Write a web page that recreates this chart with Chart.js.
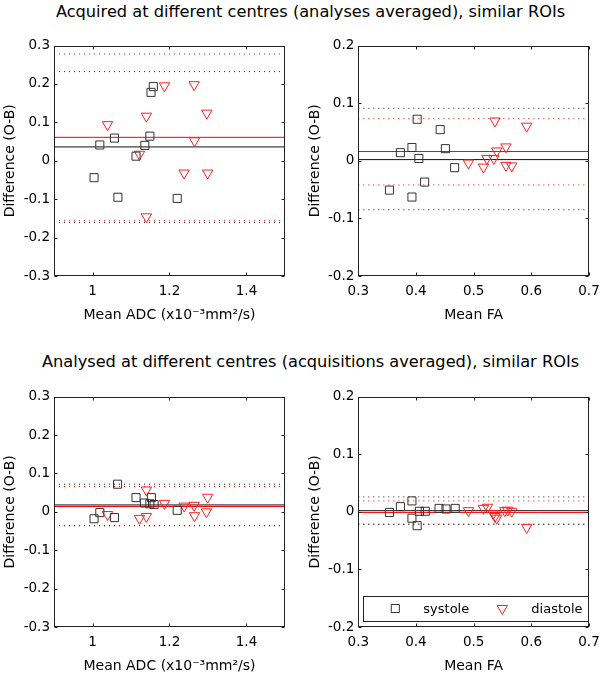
<!DOCTYPE html>
<html>
<head>
<meta charset="utf-8">
<script src="https://cdn.jsdelivr.net/npm/chart.js@4.4.0/dist/chart.umd.min.js"></script>
<style>
body { margin: 0; width: 600px; height: 675px; position: relative; overflow: hidden; background: #fff; font-family: "DejaVu Sans", sans-serif; }
canvas { position: absolute; }
.ttl { position: absolute; left: 0; width: 621px; text-align: center; font-size: 16.2px; line-height: 20px; color: #000; white-space: nowrap; }
</style>
</head>
<body>
<div class="ttl" style="top:2px">Acquired at different centres (analyses averaged), similar ROIs</div>
<div class="ttl" style="top:352px">Analysed at different centres (acquisitions averaged), similar ROIs</div>
<canvas id="c1" width="300" height="294" style="left:0;top:30px"></canvas>
<canvas id="c2" width="295" height="294" style="left:305px;top:30px"></canvas>
<canvas id="c3" width="300" height="295" style="left:0;top:380px"></canvas>
<canvas id="c4" width="295" height="295" style="left:305px;top:380px"></canvas>
<script>
// axes
var adcRange = [0.9, 1.5];
var faRange = [0.3, 0.7];
var adcDiffRange = [-0.3, 0.3];
var faDiffRange = [-0.2, 0.2];
var adcTicks = [1, 1.2, 1.4];
var faTicks = [0.3, 0.4, 0.5, 0.6, 0.7];
var adcDiffTicks = [-0.3, -0.2, -0.1, 0, 0.1, 0.2, 0.3];
var faDiffTicks = [-0.2, -0.1, 0, 0.1, 0.2];

// acquired at different centres - ADC
var acqAdcSysX = [1.158, 1.152, 1.019, 1.057, 1.149, 1.136, 1.113, 1.004, 1.066, 1.220];
var acqAdcSysY = [0.193, 0.178, 0.041, 0.059, 0.064, 0.040, 0.012, -0.044, -0.095, -0.098];
var acqAdcDiaX = [1.187, 1.264, 1.140, 1.039, 1.297, 1.265, 1.122, 1.238, 1.299, 1.140];
var acqAdcDiaY = [0.195, 0.198, 0.116, 0.094, 0.124, 0.052, 0.017, -0.032, -0.032, -0.146];
var acqAdcSysLines = [0.036, 0.232, -0.161];   // mean, upper, lower
var acqAdcDiaLines = [0.061, 0.278, -0.156];

// acquired at different centres - FA
var acqFaSysX = [0.402, 0.442, 0.393, 0.373, 0.451, 0.405, 0.467, 0.415, 0.354, 0.393];
var acqFaSysY = [0.072, 0.054, 0.023, 0.014, 0.021, 0.004, -0.012, -0.037, -0.051, -0.063];
var acqFaDiaX = [0.537, 0.592, 0.556, 0.540, 0.523, 0.535, 0.491, 0.517, 0.556, 0.566];
var acqFaDiaY = [0.069, 0.060, 0.024, 0.017, 0.004, 0.004, -0.004, -0.011, -0.008, -0.009];
var acqFaSysLines = [0.002, 0.091, -0.085];
var acqFaDiaLines = [0.016, 0.073, -0.042];

// analysed at different centres - ADC
var anaAdcSysX = [1.065, 1.113, 1.153, 1.135, 1.149, 1.160, 1.220, 1.019, 1.004, 1.057];
var anaAdcSysY = [0.072, 0.037, 0.037, 0.023, 0.021, 0.019, 0.004, -0.002, -0.018, -0.015];
var anaAdcDiaX = [1.140, 1.187, 1.299, 1.238, 1.264, 1.265, 1.296, 1.039, 1.122, 1.140];
var anaAdcDiaY = [0.057, 0.022, 0.038, 0.015, 0.017, -0.010, 0.000, -0.007, -0.017, -0.012];
var anaAdcSysLines = [0.018, 0.072, -0.036];
var anaAdcDiaLines = [0.014, 0.066, -0.036];

// analysed at different centres - FA
var anaFaSysX = [0.354, 0.373, 0.393, 0.393, 0.402, 0.406, 0.416, 0.440, 0.452, 0.468];
var anaFaSysY = [-0.001, 0.009, 0.019, -0.011, -0.024, 0.001, 0.001, 0.006, 0.005, 0.006];
var anaFaDiaX = [0.491, 0.517, 0.524, 0.534, 0.537, 0.540, 0.554, 0.559, 0.566, 0.592];
var anaFaDiaY = [0.002, 0.006, 0.008, -0.003, -0.008, -0.011, 0.002, 0.003, 0.001, -0.027];
var anaFaSysLines = [0.002, 0.026, -0.022];
var anaFaDiaLines = [-0.001, 0.019, -0.021];

var FONT = "'DejaVu Sans', sans-serif";
var SYS_COL = '#333';
var DIA_COL = '#ff2020';

function fmt(v) { return String(+v.toFixed(2)); }

var framePlugin = {
	id: 'frame',
	afterDatasetsDraw: function(chart) {
		var ctx = chart.ctx, a = chart.chartArea, sx = chart.scales.x, sy = chart.scales.y;
		var l = Math.round(a.left) + 0.5, r = Math.round(a.right) - 0.5;
		var t = Math.round(a.top) + 0.5, b = Math.round(a.bottom) - 0.5;
		ctx.save();
		ctx.strokeStyle = '#222';
		ctx.lineWidth = 1;
		ctx.strokeRect(l, t, r - l, b - t);
		ctx.beginPath();
		sx.ticks.forEach(function(tk) {
			var px = Math.round(sx.getPixelForValue(tk.value)) + 0.5;
			ctx.moveTo(px, b); ctx.lineTo(px, b - 3);
			ctx.moveTo(px, t); ctx.lineTo(px, t + 3);
		});
		sy.ticks.forEach(function(tk) {
			var py = Math.round(sy.getPixelForValue(tk.value)) + 0.5;
			ctx.moveTo(l, py); ctx.lineTo(l + 3, py);
			ctx.moveTo(r, py); ctx.lineTo(r - 3, py);
		});
		ctx.stroke();
		ctx.restore();
	}
};

var legendPlugin = {
	id: 'boxLegend',
	afterDraw: function(chart) {
		if (!chart.options.plugins.boxLegend || !chart.options.plugins.boxLegend.show) return;
		var ctx = chart.ctx, a = chart.chartArea;
		var bl = a.left + 5, br = a.right - 1, bb = a.bottom - 6, bt = bb - 25;
		var cy = (bt + bb) / 2;
		ctx.save();
		ctx.fillStyle = '#fff';
		ctx.fillRect(bl, bt, br - bl, bb - bt);
		ctx.strokeStyle = '#222';
		ctx.lineWidth = 1;
		ctx.strokeRect(Math.round(bl) + 0.5, Math.round(bt) + 0.5, Math.round(br - bl), Math.round(bb - bt));
		var items = [chart.data.datasets[0], chart.data.datasets[1]];
		var offs = [[32, 60], [139, 168]];
		items.forEach(function(ds, i) {
			ctx.strokeStyle = ds.pointBorderColor;
			ctx.fillStyle = 'rgba(0,0,0,0)';
			ctx.lineWidth = 1;
			Chart.helpers.drawPoint(ctx, {pointStyle: ds.pointStyle, radius: ds.pointRadius, rotation: ds.pointRotation || 0, borderWidth: 1}, bl + offs[i][0], cy);
			ctx.fillStyle = '#000';
			ctx.font = '13px ' + FONT;
			ctx.textBaseline = 'middle';
			ctx.fillText(ds.label, bl + offs[i][1], cy + 1);
		});
		ctx.restore();
	}
};

function hline(range, v, col, dotted) {
	return {
		label: '', data: [{x: range[0], y: v}, {x: range[1], y: v}],
		showLine: true, pointRadius: 0, borderColor: col, borderWidth: 1,
		borderDash: dotted ? [1, 4] : [], fill: false
	};
}

function panel(id, pad, yWidth, xRange, yRange, xTicks, yTicks, xTitle, sysX, sysY, diaX, diaY, sysLines, diaLines, withLegend) {
	var pts = function(xs, ys) { return xs.map(function(x, i) { return {x: x, y: ys[i]}; }); };
	var sets = [
		{label: 'systole', data: pts(sysX, sysY), pointStyle: 'rect', pointRadius: 5.7,
		 pointBorderColor: SYS_COL, pointBackgroundColor: 'rgba(0,0,0,0)', pointBorderWidth: 1, showLine: false},
		{label: 'diastole', data: pts(diaX, diaY), pointStyle: 'triangle', pointRotation: 180, pointRadius: 6,
		 pointBorderColor: DIA_COL, pointBackgroundColor: 'rgba(0,0,0,0)', pointBorderWidth: 1, showLine: false}
	];
	sets.push(hline(xRange, diaLines[0], '#ff0000', false));
	sets.push(hline(xRange, sysLines[0], '#111', false));
	sets.push(hline(xRange, sysLines[1], '#222', true));
	sets.push(hline(xRange, sysLines[2], '#222', true));
	sets.push(hline(xRange, diaLines[1], '#ff0000', true));
	sets.push(hline(xRange, diaLines[2], '#ff0000', true));

	return new Chart(document.getElementById(id), {
		type: 'scatter',
		data: { datasets: sets },
		plugins: [framePlugin, legendPlugin],
		options: {
			responsive: false,
			animation: false,
			events: [],
			layout: { padding: pad },
			plugins: { legend: { display: false }, tooltip: { enabled: false }, boxLegend: { show: withLegend } },
			scales: {
				x: {
					type: 'linear', min: xRange[0], max: xRange[1],
					afterBuildTicks: function(s) { s.ticks = xTicks.map(function(v) { return {value: v}; }); },
					afterFit: function(s) { s.height = 48; s.paddingLeft = 0; s.paddingRight = 0; },
					grid: { display: false, drawTicks: false }, border: { display: false },
					ticks: { color: '#000', font: { family: FONT, size: 13.5 }, padding: 7, maxRotation: 0, autoSkip: false, callback: function(v) { return fmt(v); } },
					title: { display: true, text: xTitle, color: '#000', font: { family: FONT, size: 14 }, padding: { top: 0, bottom: 0 } }
				},
				y: {
					type: 'linear', min: yRange[0], max: yRange[1],
					afterBuildTicks: function(s) { s.ticks = yTicks.map(function(v) { return {value: v}; }); },
					afterFit: function(s) { s.width = yWidth; s.paddingTop = 0; s.paddingBottom = 0; },
					grid: { display: false, drawTicks: false }, border: { display: false },
					ticks: { color: '#000', font: { family: FONT, size: 13.5 }, padding: 4, autoSkip: false, callback: function(v) { return fmt(v); } },
					title: { display: true, text: 'Difference (O-B)', color: '#000', font: { family: FONT, size: 14 }, padding: { top: 2, bottom: 0 } }
				}
			}
		}
	});
}

var adcTitle = 'Mean ADC (x10\u207B\u00B3mm\u00B2/s)';
panel('c1', {top: 15.5, right: 15, left: 0, bottom: 0}, 54, adcRange, adcDiffRange, adcTicks, adcDiffTicks, adcTitle,
	acqAdcSysX, acqAdcSysY, acqAdcDiaX, acqAdcDiaY, acqAdcSysLines, acqAdcDiaLines, false);
panel('c2', {top: 15.5, right: 11, left: 0, bottom: 0}, 53.3, faRange, faDiffRange, faTicks, faDiffTicks, 'Mean FA',
	acqFaSysX, acqFaSysY, acqFaDiaX, acqFaDiaY, acqFaSysLines, acqFaDiaLines, false);
panel('c3', {top: 16.7, right: 15, left: 0, bottom: 0}, 54, adcRange, adcDiffRange, adcTicks, adcDiffTicks, adcTitle,
	anaAdcSysX, anaAdcSysY, anaAdcDiaX, anaAdcDiaY, anaAdcSysLines, anaAdcDiaLines, false);
panel('c4', {top: 16.7, right: 11, left: 0, bottom: 0}, 53.3, faRange, faDiffRange, faTicks, faDiffTicks, 'Mean FA',
	anaFaSysX, anaFaSysY, anaFaDiaX, anaFaDiaY, anaFaSysLines, anaFaDiaLines, true);
</script>
</body>
</html>
